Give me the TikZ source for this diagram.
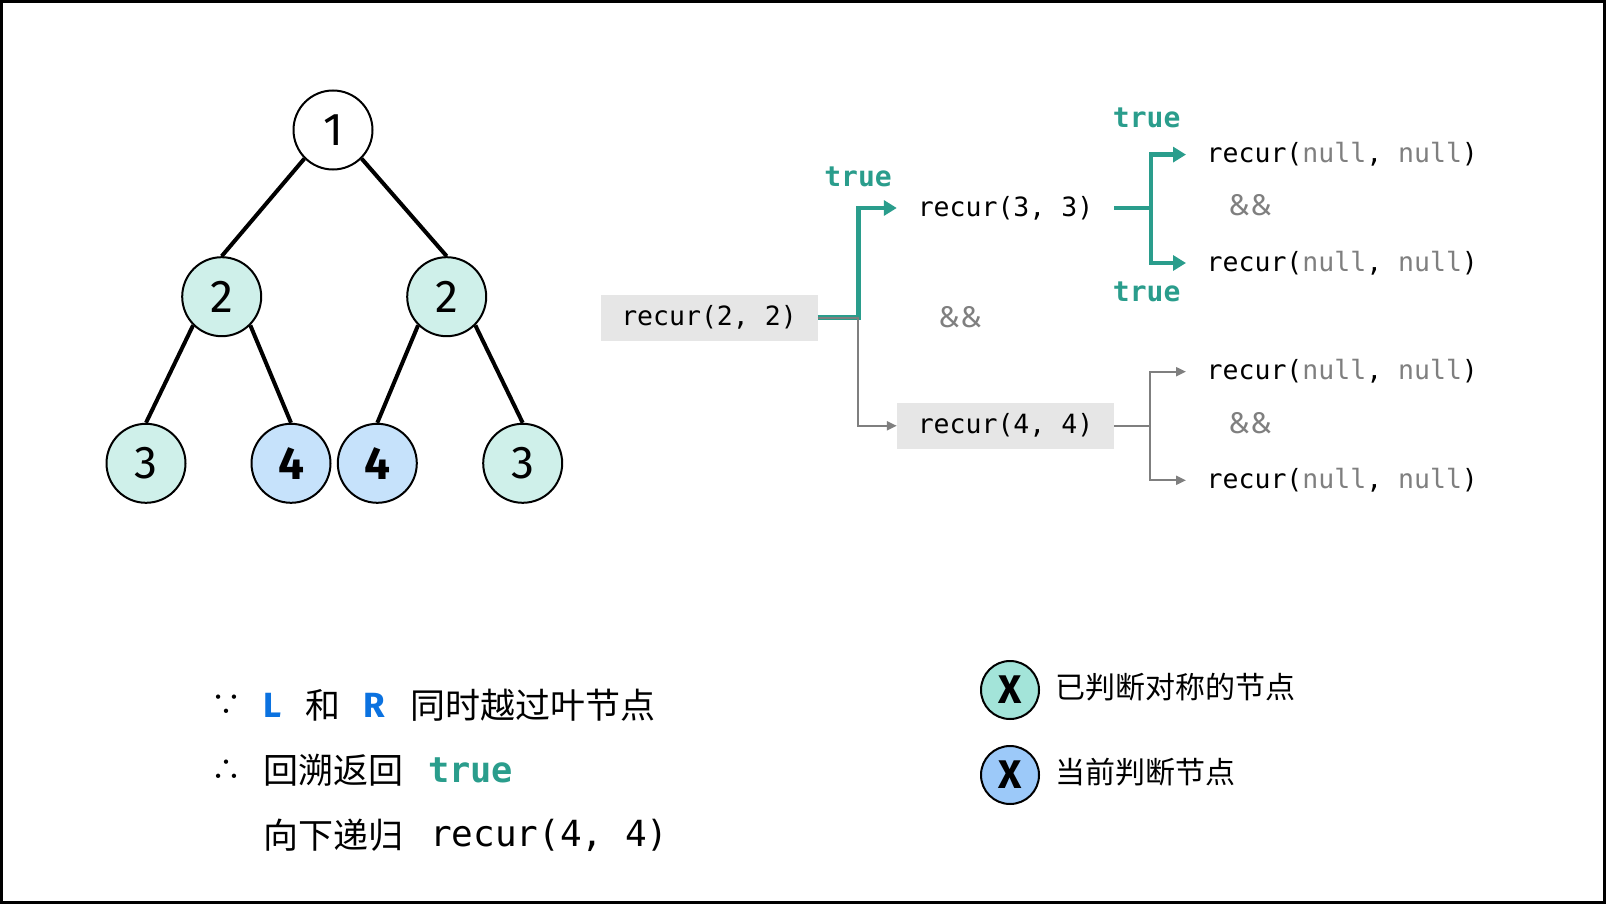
\documentclass[tikz,border=0pt]{standalone}
\usepackage{fontspec}
\setmainfont{Fira Sans}
\setmonofont{DejaVu Sans Mono}
\newfontfamily\cjk{Noto Sans CJK SC}
\usepackage{xcolor}
\definecolor{MintFill}{HTML}{CFF0EA}
\definecolor{SkyFill}{HTML}{C6E2FB}
\definecolor{MintKey}{HTML}{A3E4D9}
\definecolor{SkyKey}{HTML}{9CC9F9}
\definecolor{TrueTeal}{HTML}{2A9D8C}
\definecolor{NullGray}{HTML}{7F7F7F}
\definecolor{BoxGray}{HTML}{E6E6E6}
\definecolor{LRBlue}{HTML}{0B72E0}
\usetikzlibrary{
    arrows.meta,
    positioning
    }
\newcommand{\setfs}[1]{\fontsize{#1}{#1}\selectfont}
\newcommand{\gnull}{\textcolor{NullGray}{null}}

\begin{document}
\begin{tikzpicture}[x=1pt, y=-1pt,
    tnode/.style={circle, draw=black, line width=2pt, minimum size=79pt, inner sep=0pt, font=\setfs{46}},
    tedge/.style={draw=black, line width=4pt},
    recurbox/.style={fill=BoxGray, minimum width=217pt, minimum height=46pt, inner sep=0pt, font=\ttfamily\setfs{26.5}},
    recurtext/.style={minimum width=217pt, minimum height=46pt, inner sep=0pt, font=\ttfamily\setfs{26.5}},
    nulltext/.style={anchor=west, inner xsep=20.5pt, inner ysep=0pt, font=\ttfamily\setfs{26.5}},
    trueword/.style={text=TrueTeal, font=\ttfamily\bfseries\setfs{28}},
    andand/.style={text=NullGray, font=\setfs{30}},
    yesarrow/.style={draw=TrueTeal, line width=4.5pt, -{Triangle[length=13pt,width=15pt]}},
    noarrow/.style={draw=NullGray, line width=2pt, -{Triangle[length=10pt,width=9pt]}},
    linetext/.style={anchor=west, inner sep=0pt, font=\cjk\setfs{35}},
    keynode/.style={circle, draw=black, line width=2pt, minimum size=58pt, inner sep=0pt, font=\setfs{40}\bfseries},
    keytext/.style={anchor=west, inner sep=0pt, font=\cjk\setfs{30}}
    ]

    \useasboundingbox (0,0) rectangle (1606,904);
    \draw[line width=3pt] (1.5,1.5) rectangle (1604.5,902.5);

    %Tree
    \node[tnode, fill=white] (n1) at (333,130) {1};
    \node[tnode, fill=MintFill] (n2a) at (221.7,296.7) {2};
    \node[tnode, fill=MintFill] (n2b) at (446.7,296.7) {2};
    \node[tnode, fill=MintFill] (n3a) at (146,463.3) {3};
    \node[tnode, fill=SkyFill, font=\setfs{46}\bfseries] (n4a) at (291,463.3) {4};
    \node[tnode, fill=SkyFill, font=\setfs{46}\bfseries] (n4b) at (377.3,463.3) {4};
    \node[tnode, fill=MintFill] (n3b) at (522.7,463.3) {3};
    \draw[tedge] (n1.south west) -- (n2a.north);
    \draw[tedge] (n1.south east) -- (n2b.north);
    \draw[tedge] (n2a.south west) -- (n3a.north);
    \draw[tedge] (n2a.south east) -- (n4a.north);
    \draw[tedge] (n2b.south west) -- (n4b.north);
    \draw[tedge] (n2b.south east) -- (n3b.north);

    %Recursion
    \node[recurbox] (r22) at (709,317.5) {recur(2, 2)};
    \node[recurtext] (r33) at (1005.5,208) {recur(3, 3)};
    \node[recurbox] (r44) at (1005.5,425.8) {recur(4, 4)};
    \node[nulltext] (na) at (1186,154.6) {recur(\gnull, \gnull)};
    \node[nulltext] (nb) at (1186,263) {recur(\gnull, \gnull)};
    \node[nulltext] (nc) at (1186,371.7) {recur(\gnull, \gnull)};
    \node[nulltext] (nd) at (1186,480.3) {recur(\gnull, \gnull)};
    \draw[yesarrow] (r22.east) -- ++(40.6,0) |- (r33.west);
    \draw[noarrow] (r22.east) -- ++(40.6,0) |- (r44.west);
    \draw[yesarrow] (r33.east) -- ++(37,0) |- (na.west);
    \draw[yesarrow] (r33.east) -- ++(37,0) |- (nb.west);
    \draw[noarrow] (r44.east) -- ++(36,0) |- (nc.west);
    \draw[noarrow] (r44.east) -- ++(36,0) |- (nd.west);
    \node[trueword] (t33) at (858,177) {true};
    \node[trueword] (ta) at (1146.7,118.3) {true};
    \node[trueword] (tb) at (1146.7,292.3) {true};
    \node[andand] (and1) at (960,316.7) {\&\&};
    \node[andand] (and2) at (1250,205) {\&\&};
    \node[andand] (and3) at (1250,423.3) {\&\&};

    %Reasoning
    \node[font=\cjk\setfs{30}] (because) at (226.7,705) {∵};
    \node[linetext, text=LRBlue, font=\setfs{35}\bfseries] (lL) at (263,705) {L};
    \node[linetext] (lhe) at (305,705) {和};
    \node[linetext, text=LRBlue, font=\setfs{35}\bfseries] (lR) at (363,705) {R};
    \node[linetext] (lleaf) at (410,705) {同时越过叶节点};
    \node[font=\cjk\setfs{30}] (therefore) at (226.7,770) {∴};
    \node[linetext] (lback) at (263,770) {回溯返回};
    \node[linetext, text=TrueTeal, font=\ttfamily\bfseries\setfs{35.3}] (ltrue) at (428,770) {true};
    \node[linetext] (ldown) at (263,835) {向下递归};
    \node[linetext, font=\ttfamily\setfs{36}] (lrecur) at (430,835) {recur(4, 4)};

    %Key
    \node[keynode, fill=MintKey] (k1) at (1010,690) {X};
    \node[keytext] (k1t) at (1055,687) {已判断对称的节点};
    \node[keynode, fill=SkyKey] (k2) at (1010,775) {X};
    \node[keytext] (k2t) at (1055,772) {当前判断节点};

\end{tikzpicture}
\end{document}
